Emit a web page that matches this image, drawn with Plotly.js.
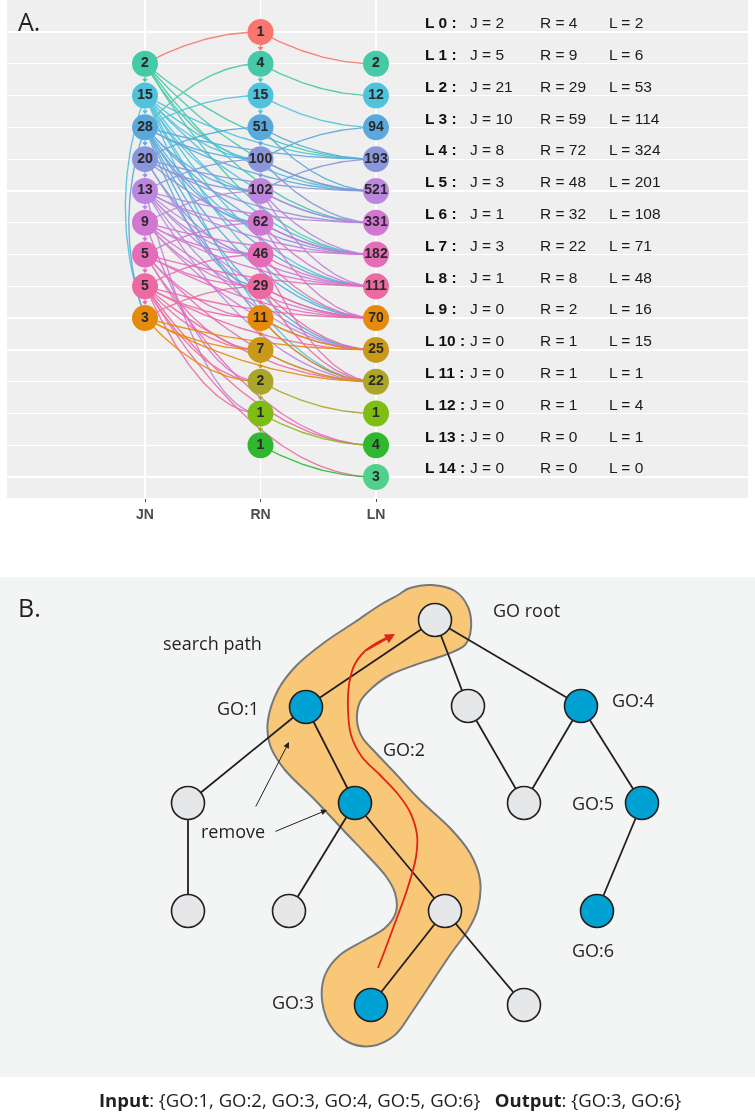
<!DOCTYPE html>
<html><head><meta charset="utf-8">
<script src="https://cdn.plot.ly/plotly-3.0.1.min.js"></script>
<style>html,body{margin:0;padding:0;background:#fff}#chart{width:755px;height:1112px}</style>
</head><body><div id="chart"></div>
<script>
// ---------------- Panel A data ----------------
const columns = ['JN', 'RN', 'LN'];
const levelLabels = ['L 0 :','L 1 :','L 2 :','L 3 :','L 4 :','L 5 :','L 6 :','L 7 :','L 8 :','L 9 :','L 10 :','L 11 :','L 12 :','L 13 :','L 14 :'];
const jCounts = [2,5,21,10,8,3,1,3,1,0,0,0,0,0,0];
const rCounts = [4,9,29,59,72,48,32,22,8,2,1,1,1,0,0];
const lCounts = [2,6,53,114,324,201,108,71,48,16,15,1,4,1,0];
// node values by level in each column (null = no node)
const jnNodes = [null,2,15,28,20,13,9,5,5,3,null,null,null,null,null];
const rnNodes = [1,4,15,51,100,102,62,46,29,11,7,2,1,1,null];
const lnNodes = [null,2,12,94,193,521,331,182,111,70,25,22,1,4,3];
const levelColors = ['#F8766D','#45C9A6','#4FC3DB','#5AA9DD','#8A96DC','#BC85DE','#D277D1','#E46CB8','#EC69A2',
                     '#E58A0C','#C99A1A','#A9A62A','#7EBE14','#2FB82F','#4FD08D'];
// edges: [columnA, levelA, columnB, levelB]  (0=JN, 1=RN, 2=LN)
const edges = [
 [1,0,0,1],[1,0,2,1],
 [1,1,2,2],[0,3,1,1],[0,1,2,4],[0,1,2,5],[0,1,2,7],[0,1,1,4],[0,1,2,6],
 [1,2,2,3],[0,3,1,2],[0,2,1,4],[0,2,1,5],[0,2,2,4],[0,2,2,5],[0,2,2,6],[0,2,2,7],[0,2,2,8],[0,2,2,9],[0,2,2,11],[0,2,1,6],[0,2,0,9],
 [1,3,2,4],[1,3,2,5],[0,3,1,4],[0,3,1,5],[0,3,1,6],[0,3,2,4],[0,3,2,5],[0,3,2,7],[0,3,2,8],[0,3,2,9],[0,3,2,10],[0,3,2,11],[0,3,1,8],[0,3,0,9],[1,4,2,3],[0,4,1,3],
 [1,4,2,5],[1,4,2,6],[0,4,1,5],[0,4,2,5],[0,4,2,6],[0,4,2,7],[0,4,1,7],[0,4,2,10],[1,4,0,5],[1,5,2,4],
 [1,5,2,6],[1,5,2,7],[1,5,2,8],[0,5,1,6],[0,5,1,7],[0,5,2,6],[0,5,2,7],[0,5,2,9],[0,5,2,10],[0,5,2,11],[0,5,1,12],[1,5,0,6],[0,5,2,8],
 [1,6,2,7],[1,6,2,8],[1,6,2,9],[0,6,1,7],[0,6,1,8],[0,6,2,7],[0,6,2,8],[0,6,2,9],[0,6,2,10],[1,6,0,7],[0,6,1,11],
 [1,7,2,8],[1,7,2,9],[1,7,2,11],[0,7,1,8],[0,7,1,9],[0,7,2,8],[0,7,2,9],[0,7,2,11],[0,7,2,13],[1,7,0,8],[0,7,1,10],
 [1,8,2,9],[1,8,2,10],[1,8,2,11],[0,8,1,9],[0,8,1,10],[0,8,1,11],[0,8,2,9],[0,8,2,10],[0,8,2,11],[0,8,2,13],[0,8,2,14],[1,8,0,9],[0,8,1,12],
 [1,9,2,10],[1,9,2,11],[0,9,1,10],[0,9,1,11],[0,9,2,10],[0,9,2,11],
 [1,10,2,11],
 [1,11,2,12],
 [1,12,2,13],
 [1,13,2,14]
];

// ---------------- Panel B data ----------------
const goNames  = ['GO root','GO:1','a','GO:4','b','GO:2','c','GO:5','d','e','f','GO:6','GO:3','g'];
const goInput  = [false,true,false,true,false,true,false,true,false,false,false,true,true,false];
// diagram layout units (B panel)
const goX = [435,306,468,581,188,355,524,642,188,289,445,597,371,524];
const goY = [620,707,706,706,803,803,803,803,911,911,911,911,1005,1005];
const goLinks = [['GO root','GO:1'],['GO root','a'],['GO root','GO:4'],['GO:1','b'],['GO:1','GO:2'],['b','d'],
  ['GO:2','e'],['GO:2','f'],['a','c'],['GO:4','c'],['GO:4','GO:5'],['GO:5','GO:6'],['f','GO:3'],['f','g']];
const blobOutline = [[398,595],[410,588],[432,585],[455,591],[468,607],[471,628],[465,645],[445,655],[415,665],[390,675],
  [372,688],[360,702],[357,720],[362,737],[375,752],[395,773],[420,800],[450,828],[470,853],[480,880],[478,908],[468,930],
  [450,955],[430,985],[412,1012],[395,1035],[372,1046],[348,1042],[330,1025],[322,1000],[325,975],[340,955],[365,940],
  [385,928],[396,912],[395,893],[385,875],[367,855],[345,832],[315,800],[285,770],[270,745],[268,720],[278,690],[297,665],
  [325,642],[355,622],[380,605]];
const searchPathX = [378,385,395,407,416,417,410,397,380,362,351,348,349,354,365,380,393];
const searchPathY = [968,950,923,890,857,835,812,793,775,757,735,710,685,666,651,641,635];

// ---------------- geometry helpers ----------------
const W = 755, H = 1112;
const colX = [1,2,3];
const nodeRadLev = 13/31.79; // radius in level units
const traces = [];

function quad(p0, c, p1, n){
  const xs=[], ys=[];
  for(let i=0;i<=n;i++){const t=i/n, a=(1-t)*(1-t), b=2*(1-t)*t, d=t*t;
    xs.push(a*p0[0]+b*c[0]+d*p1[0]); ys.push(a*p0[1]+b*c[1]+d*p1[1]);}
  return [xs,ys];
}
const byColor = {};
edges.forEach(([ca,la,cb,lb])=>{
  const col = levelColors[Math.min(la,lb)];
  if(!byColor[col]) byColor[col]={x:[],y:[]};
  let xs, ys;
  if(ca===cb){
    const x=colX[ca], top=Math.min(la,lb), bot=Math.max(la,lb);
    const bow = 0.34 - 0.06*(top-2);
    [xs,ys] = quad([x,top],[x-bow,(top+bot)/2],[x,bot],40);
  } else {
    let L=[colX[ca],la], R=[colX[cb],lb];
    if(L[0]>R[0]){const t=L;L=R;R=t;}
    [xs,ys] = quad(L,[L[0]+0.5*(R[0]-L[0]),R[1]],R,50);
  }
  byColor[col].x.push(...xs,null); byColor[col].y.push(...ys,null);
});
const arrowTips = {x:[],y:[],c:[]};
[[0,jnNodes],[1,rnNodes]].forEach(([ci,nodes])=>{
  for(let l=0;l<nodes.length-1;l++){
    if(nodes[l]!==null && nodes[l+1]!==null){
      const col=levelColors[l];
      if(!byColor[col]) byColor[col]={x:[],y:[]};
      byColor[col].x.push(colX[ci],colX[ci],null);
      byColor[col].y.push(l+nodeRadLev,l+1-nodeRadLev-0.05,null);
      arrowTips.x.push(colX[ci]); arrowTips.y.push(l+1-nodeRadLev-0.08); arrowTips.c.push(col);
    }
  }
});
Object.keys(byColor).forEach(col=>{
  traces.push({type:'scatter',mode:'lines',x:byColor[col].x,y:byColor[col].y,xaxis:'x',yaxis:'y',
    line:{color:col,width:1.35},opacity:0.9,hoverinfo:'skip',connectgaps:false});
});
traces.push({type:'scatter',mode:'markers',x:arrowTips.x,y:arrowTips.y,xaxis:'x',yaxis:'y',
  marker:{symbol:'triangle-down',size:5,color:arrowTips.c},hoverinfo:'skip'});
[jnNodes,rnNodes,lnNodes].forEach((nodes,ci)=>{
  const xs=[],ys=[],tx=[],cs=[];
  nodes.forEach((v,l)=>{ if(v!==null){xs.push(colX[ci]);ys.push(l);tx.push(String(v));cs.push(levelColors[l]);} });
  traces.push({type:'scatter',mode:'markers+text',x:xs,y:ys,text:tx,xaxis:'x',yaxis:'y',
    textposition:'middle center',textfont:{family:'Liberation Sans, Arial, sans-serif',size:14,color:'#2a2a2a',weight:'bold'},
    marker:{size:26,color:cs,line:{width:0}},hoverinfo:'skip',cliponaxis:false});
});

// ---------------- Panel B traces ----------------
const idx = n => goNames.indexOf(n);
const lx=[], ly=[];
goLinks.forEach(([a,b])=>{lx.push(goX[idx(a)],goX[idx(b)],null); ly.push(goY[idx(a)],goY[idx(b)],null);});
traces.push({type:'scatter',mode:'lines',x:lx,y:ly,xaxis:'x2',yaxis:'y2',line:{color:'#231F20',width:1.8},hoverinfo:'skip'});
traces.push({type:'scatter',mode:'lines',x:searchPathX,y:searchPathY,xaxis:'x2',yaxis:'y2',
  line:{color:'#E2231A',width:1.8,shape:'spline',smoothing:1},hoverinfo:'skip'});
traces.push({type:'scatter',mode:'markers',x:goX,y:goY,xaxis:'x2',yaxis:'y2',
  marker:{size:33,color:goInput.map(v=>v?'#00A1D3':'#E6E7E8'),line:{color:'#231F20',width:1.6}},hoverinfo:'skip'});

function smoothClosed(p){
  const n=p.length; let d=`M${p[0][0]},${p[0][1]}`;
  for(let i=0;i<n;i++){
    const p0=p[(i-1+n)%n],p1=p[i],p2=p[(i+1)%n],p3=p[(i+2)%n];
    const c1=[p1[0]+(p2[0]-p0[0])/6,p1[1]+(p2[1]-p0[1])/6];
    const c2=[p2[0]-(p3[0]-p1[0])/6,p2[1]-(p3[1]-p1[1])/6];
    d+=` C${c1[0].toFixed(1)},${c1[1].toFixed(1)} ${c2[0].toFixed(1)},${c2[1].toFixed(1)} ${p2[0]},${p2[1]}`;
  }
  return d+' Z';
}

// ---------------- layout ----------------
const aTop=0, aBot=498, bTop=577, bBot=1077;
const lev0=32, levStep=31.79;
const yRangeA=[(aBot-lev0)/levStep, (aTop-lev0)/levStep];
const xUnit=115.5, jnPx=145, aLeft=7, aRight=748;
const xRangeA=[1-(jnPx-aLeft)/xUnit, 1+(aRight-jnPx)/xUnit];
const u = px => 1+(px-jnPx)/xUnit;

const annotations=[];
const tblFont={family:'Liberation Sans, Arial, sans-serif',size:15.5,color:'#1a1a1a'};
levelLabels.forEach((lab,i)=>{
  const y=i-0.29;
  annotations.push({xref:'x',yref:'y',x:u(423),y:y,text:'<b>'+lab+'</b>',showarrow:false,xanchor:'left',yanchor:'middle',font:{...tblFont,color:'#111'}});
  annotations.push({xref:'x',yref:'y',x:u(468),y:y,text:'J = '+jCounts[i],showarrow:false,xanchor:'left',yanchor:'middle',font:tblFont});
  annotations.push({xref:'x',yref:'y',x:u(538),y:y,text:'R = '+rCounts[i],showarrow:false,xanchor:'left',yanchor:'middle',font:tblFont});
  annotations.push({xref:'x',yref:'y',x:u(607),y:y,text:'L = '+lCounts[i],showarrow:false,xanchor:'left',yanchor:'middle',font:tblFont});
});
const lblFont={family:'Open Sans, sans-serif',size:18,color:'#231F20'};
annotations.push({xref:'paper',yref:'paper',x:16/W,y:1-21/H,text:'A.',showarrow:false,xanchor:'left',yanchor:'middle',font:{family:'Open Sans, sans-serif',size:25,color:'#231F20'}});
annotations.push({xref:'paper',yref:'paper',x:16/W,y:1-607/H,text:'B.',showarrow:false,xanchor:'left',yanchor:'middle',font:{family:'Open Sans, sans-serif',size:25,color:'#231F20'}});
const bLabels=[['GO root',491,610,'left'],['search path',212,643,'center'],['GO:1',238,708,'center'],['GO:2',404,749,'center'],
  ['GO:4',633,700,'center'],['GO:5',593,803,'center'],['remove',233,831,'center'],['GO:6',593,950,'center'],['GO:3',293,1002,'center']];
bLabels.forEach(([t,x,y,a])=>annotations.push({xref:'x2',yref:'y2',x:x,y:y,text:t,showarrow:false,xanchor:a,yanchor:'middle',font:lblFont}));
[[255,808,289,742],[274,832,327,810]].forEach(([x0,y0,x1,y1])=>annotations.push({xref:'x2',yref:'y2',axref:'x2',ayref:'y2',
  x:x1,y:y1,ax:x0,ay:y0,text:'',showarrow:true,arrowhead:2,arrowsize:1.2,arrowwidth:1,arrowcolor:'#231F20'}));
const nP=searchPathX.length;
annotations.push({xref:'x2',yref:'y2',axref:'x2',ayref:'y2',x:searchPathX[nP-1]+2,y:searchPathY[nP-1]-1,
  ax:searchPathX[nP-3],ay:searchPathY[nP-3],text:'',showarrow:true,arrowhead:2,arrowsize:1.1,arrowwidth:1.8,arrowcolor:'#E2231A'});
annotations.push({xref:'paper',yref:'paper',x:390/W,y:1-1099/H,showarrow:false,xanchor:'center',yanchor:'middle',
  text:'<b>Input</b>: {GO:1, GO:2, GO:3, GO:4, GO:5, GO:6}\u00A0\u00A0\u00A0<b>Output</b>: {GO:3, GO:6}',
  font:{family:'Open Sans, sans-serif',size:18.5,color:'#231F20'}});

const shapes=[
  {type:'rect',xref:'paper',yref:'paper',x0:aLeft/W,x1:aRight/W,y0:1-aBot/H,y1:1-aTop/H,fillcolor:'#EFEFEF',line:{width:0},layer:'below'},
  {type:'rect',xref:'paper',yref:'paper',x0:0,x1:1,y0:1-bBot/H,y1:1-bTop/H,fillcolor:'#F3F5F5',line:{width:0},layer:'below'},
  {type:'path',xref:'x2',yref:'y2',path:smoothClosed(blobOutline),fillcolor:'#F8C777',line:{color:'#77787B',width:2},layer:'between'}
];

const layout={
  width:W,height:H,margin:{l:0,r:0,t:0,b:0},paper_bgcolor:'#fff',plot_bgcolor:'rgba(0,0,0,0)',showlegend:false,
  xaxis:{domain:[aLeft/W,aRight/W],range:xRangeA,tickvals:colX,ticktext:columns,showgrid:true,gridcolor:'#fff',gridwidth:1.3,
    zeroline:false,ticks:'outside',ticklen:3,tickcolor:'#4d4d4d',tickwidth:1,showline:false,
    tickfont:{family:'Liberation Sans, Arial, sans-serif',size:14,color:'#4D4D4D',weight:'bold'},fixedrange:true,anchor:'y'},
  yaxis:{domain:[1-aBot/H,1-aTop/H],range:yRangeA,tickvals:levelLabels.map((_,i)=>i),showticklabels:false,ticks:'',
    showgrid:true,gridcolor:'#fff',gridwidth:1.3,zeroline:false,showline:false,fixedrange:true,anchor:'x'},
  xaxis2:{domain:[0,1],range:[0,W],visible:false,fixedrange:true,anchor:'y2'},
  yaxis2:{domain:[1-bBot/H,1-bTop/H],range:[bBot,bTop],visible:false,fixedrange:true,anchor:'x2'},
  shapes:shapes,annotations:annotations
};
Plotly.newPlot('chart',traces,layout,{staticPlot:true,displayModeBar:false});
</script></body></html>
